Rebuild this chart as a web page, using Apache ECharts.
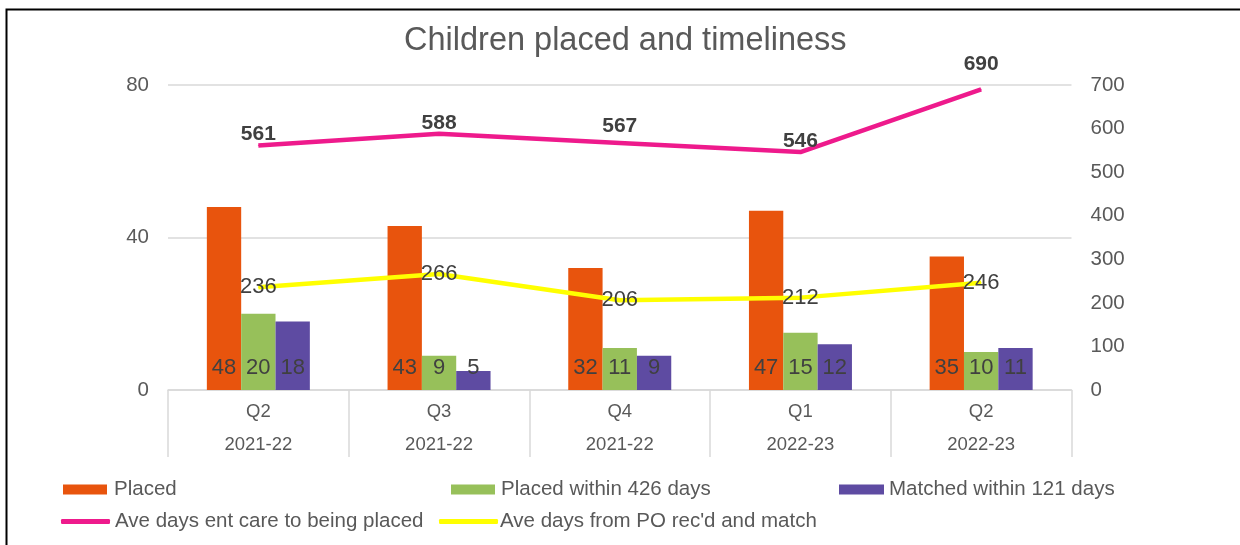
<!DOCTYPE html>
<html>
<head>
<meta charset="utf-8">
<script src="https://cdn.jsdelivr.net/npm/echarts@6/dist/echarts.min.js"></script>
<style>html,body{margin:0;padding:0;background:#fff;}#c{width:1240px;height:545px;}</style>
</head>
<body>
<div id="c"></div>
<script>
const quarters = ['Q2', 'Q3', 'Q4', 'Q1', 'Q2'];
const years = ['2021-22', '2021-22', '2021-22', '2022-23', '2022-23'];
const placed = [48, 43, 32, 47, 35];
const placedWithin426 = [20, 9, 11, 15, 10];
const matchedWithin121 = [18, 5, 9, 12, 11];
const aveDaysCareToPlaced = [561, 588, 567, 546, 690];
const aveDaysPOToMatch = [236, 266, 206, 212, 246];
const leftTicks = { min: 0, max: 80, interval: 40 };
const rightTicks = { min: 0, max: 700, interval: 100 };

const categories = quarters.map((q, i) => q + '\n' + years[i]);
const FONT = 'Liberation Sans, Arial, sans-serif';
const TXT = '#595959';
const LBL = '#404040';

// label placement tweaks (style only, by point index)
const pinkLabelDistance = { 2: 6, 4: 14 };

const chart = echarts.init(document.getElementById('c'));
function legendAt(left, top, name, icon, w, h, gapPad) {
  return {
    left: left, top: top, padding: 0,
    itemWidth: w, itemHeight: h, itemGap: 0,
    textStyle: { fontFamily: FONT, fontSize: 20.5, color: TXT, padding: [0, 0, 0, gapPad] },
    data: [{ name: name, icon: icon }]
  };
}
chart.setOption({
  animation: false,
  textStyle: { fontFamily: FONT },
  title: {
    text: 'Children placed and timeliness',
    left: 404, top: 25, padding: 0,
    textStyle: { fontFamily: FONT, fontSize: 32.5, fontWeight: 'normal', color: TXT }
  },
  graphic: [{
    type: 'polyline',
    shape: { points: [[6.5, 545], [6.5, 9.5], [1240, 9.5]] },
    style: { stroke: '#000', lineWidth: 2, fill: null }
  }],
  legend: [
    legendAt(63, 479, 'Placed', 'rect', 44, 10, 2),
    legendAt(451, 479, 'Placed within 426 days', 'rect', 44, 10, 1),
    legendAt(839, 479, 'Matched within 121 days', 'rect', 45, 10, 0),
    legendAt(61, 511, 'Ave days ent care to being placed', 'roundRect', 49, 5, 0),
    legendAt(439, 511, "Ave days from PO rec'd and match", 'roundRect', 59, 5, -3)
  ],
  grid: { left: 168, right: 168.5, top: 85, bottom: 155 },
  xAxis: {
    type: 'category',
    data: categories,
    axisLine: { show: true, lineStyle: { color: '#d9d9d9', width: 1.5 } },
    axisTick: { show: true, interval: 0, length: 67, alignWithLabel: false, lineStyle: { color: '#d9d9d9', width: 1.5 } },
    axisLabel: { interval: 0, margin: 5, fontFamily: FONT, fontSize: 18.5, color: TXT, lineHeight: 33 }
  },
  yAxis: [{
    type: 'value', min: leftTicks.min, max: leftTicks.max, interval: leftTicks.interval,
    axisLine: { show: false }, axisTick: { show: false },
    axisLabel: { margin: 19, fontFamily: FONT, fontSize: 20.5, color: TXT },
    splitLine: { show: true, lineStyle: { color: '#d9d9d9', width: 1.5 } }
  }, {
    type: 'value', min: rightTicks.min, max: rightTicks.max, interval: rightTicks.interval,
    axisLine: { show: false }, axisTick: { show: false },
    axisLabel: { margin: 19, fontFamily: FONT, fontSize: 20.5, color: TXT },
    splitLine: { show: false }
  }],
  series: [{
    name: 'Placed', type: 'bar', data: placed, yAxisIndex: 0,
    barWidth: '19%', barGap: '0%',
    itemStyle: { color: '#E8540D' },
    label: { show: true, position: 'insideBottom', distance: 11, fontFamily: FONT, fontSize: 22, color: LBL }
  }, {
    name: 'Placed within 426 days', type: 'bar', data: placedWithin426, yAxisIndex: 0,
    barWidth: '19%', barGap: '0%',
    itemStyle: { color: '#97C05A' },
    label: { show: true, position: 'insideBottom', distance: 11, fontFamily: FONT, fontSize: 22, color: LBL }
  }, {
    name: 'Matched within 121 days', type: 'bar', data: matchedWithin121, yAxisIndex: 0,
    barWidth: '19%', barGap: '0%',
    itemStyle: { color: '#5E4BA2' },
    label: { show: true, position: 'insideBottom', distance: 11, fontFamily: FONT, fontSize: 22, color: LBL }
  }, {
    name: 'Ave days ent care to being placed', type: 'line', yAxisIndex: 1,
    data: aveDaysCareToPlaced.map((v, i) => pinkLabelDistance[i] !== undefined
      ? { value: v, label: { distance: pinkLabelDistance[i] } } : v),
    symbol: 'circle', symbolSize: 1, itemStyle: { color: '#EE1A8C' },
    lineStyle: { color: '#EE1A8C', width: 4.5 },
    label: { show: true, position: 'top', distance: 0, fontFamily: FONT, fontSize: 21, fontWeight: 'bold', color: LBL },
    z: 5
  }, {
    name: "Ave days from PO rec'd and match", type: 'line', data: aveDaysPOToMatch, yAxisIndex: 1,
    symbol: 'circle', symbolSize: 1, itemStyle: { color: '#FFFF00' },
    lineStyle: { color: '#FFFF00', width: 4.5 },
    label: { show: true, position: 'inside', fontFamily: FONT, fontSize: 22, color: LBL },
    z: 5
  }]
});
</script>
</body>
</html>
